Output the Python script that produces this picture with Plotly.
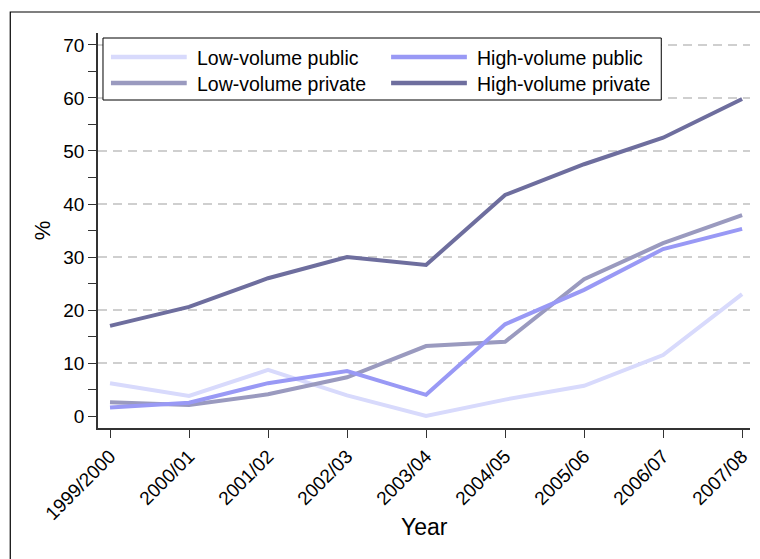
import plotly.graph_objects as go

years = ["1999/2000", "2000/01", "2001/02", "2002/03", "2003/04",
         "2004/05", "2005/06", "2006/07", "2007/08"]
series_names = ["Low-volume public", "High-volume public",
                "Low-volume private", "High-volume private"]
low_public = [6.2, 3.8, 8.7, 3.9, 0.0, 3.1, 5.7, 11.5, 23.0]
high_public = [1.6, 2.5, 6.2, 8.5, 4.0, 17.3, 23.8, 31.5, 35.3]
low_private = [2.6, 2.1, 4.1, 7.3, 13.2, 14.0, 25.8, 32.6, 37.9]
high_private = [17.0, 20.6, 26.0, 30.0, 28.5, 41.7, 47.5, 52.5, 59.8]
colors = ["#d8dafc", "#9999f5", "#9a9abf", "#6e6e9e"]
values = [low_public, high_public, low_private, high_private]
yticks = [0, 10, 20, 30, 40, 50, 60, 70]

W, H = 760, 559
L, R, T, B = 98, 8, 33, 131
pw, ph = W - L - R, H - T - B
FONT = "Liberation Sans, Arial, sans-serif"


def px(x):
    return (x - L) / pw


def py(y):
    return (H - B - y) / ph


fig = go.Figure()
# draw order: light first, dark last
for i in [0, 2, 1, 3]:
    fig.add_trace(go.Scatter(x=years, y=values[i], mode="lines",
                             name=series_names[i],
                             line=dict(color=colors[i], width=4),
                             showlegend=False))

shapes = []
annotations = []
# gridlines (dashed) from 10 to 70
for v in yticks[1:]:
    shapes.append(dict(type="line", xref="paper", yref="y", x0=0, x1=1,
                       y0=v, y1=v, layer="below",
                       line=dict(color="#c0c0c0", width=1.5, dash="9px,6px")))
# outer frame
shapes.append(dict(type="rect", xref="paper", yref="paper",
                   x0=px(10), x1=px(800), y0=py(600), y1=py(12),
                   line=dict(color="#000000", width=1.2)))
# legend box
shapes.append(dict(type="rect", xref="paper", yref="paper",
                   x0=px(103), x1=px(663), y0=py(100), y1=py(38),
                   fillcolor="white", line=dict(color="#000000", width=1), layer="above"))
leg_pos = [(111, 57), (392, 57), (111, 83), (392, 83)]
for i, (lx, ly) in enumerate(leg_pos):
    shapes.append(dict(type="line", xref="paper", yref="paper",
                       x0=px(lx), x1=px(lx + 76), y0=py(ly), y1=py(ly),
                       layer="above",
                       line=dict(color=colors[i], width=4.5)))
    annotations.append(dict(xref="paper", yref="paper", x=px(lx + 84), y=py(ly + 1),
                            text=series_names[i], showarrow=False,
                            xanchor="left", yanchor="middle",
                            font=dict(size=19.5, color="#000000", family=FONT)))
# axis titles
annotations.append(dict(xref="paper", yref="paper", x=px(425), y=py(527),
                        text="Year", showarrow=False, xanchor="center",
                        yanchor="middle", font=dict(size=23, family=FONT)))
annotations.append(dict(xref="paper", yref="paper", x=px(42), y=py(230),
                        text="%", showarrow=False, xanchor="center",
                        yanchor="middle", textangle=-90,
                        font=dict(size=22, family=FONT)))

fig.update_layout(
    width=W, height=H,
    margin=dict(l=L, r=R, t=T, b=B),
    paper_bgcolor="white", plot_bgcolor="white",
    font=dict(family=FONT, size=19, color="#000000"),
    shapes=shapes, annotations=annotations,
    showlegend=False,
    xaxis=dict(type="category", range=[-0.152, 8.1],
               tickangle=-45, ticks="outside", ticklen=8, tickwidth=1.2,
               tickcolor="#333333", showline=True, linecolor="#333333",
               linewidth=1.5, showgrid=False, zeroline=False,
               tickfont=dict(size=19)),
    yaxis=dict(range=[-2.26, 72.26], tickvals=yticks,
               ticks="outside", ticklen=8, tickwidth=1.2, tickcolor="#333333",
               showline=True, linecolor="#333333", linewidth=1.5,
               showgrid=False, zeroline=False,
               minor=dict(tickvals=[5, 15, 25, 35, 45, 55, 65], ticks="outside",
                          ticklen=8, tickwidth=1.2, tickcolor="#333333"),
               tickfont=dict(size=19)),
)

fig.write_html("out.html")
